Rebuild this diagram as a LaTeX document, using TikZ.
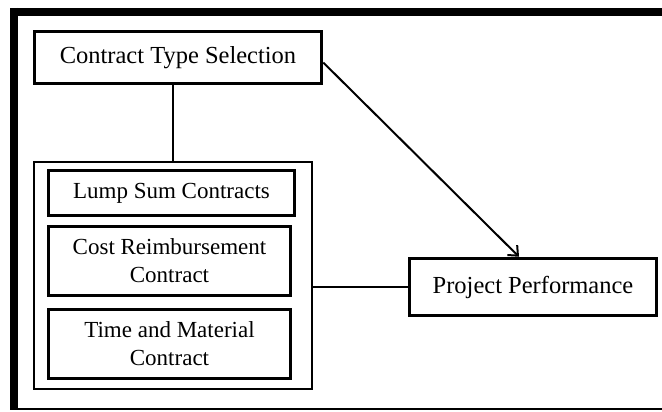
\documentclass[tikz,border=0pt]{standalone}
\usepackage{fontspec}
\setmainfont{Liberation Serif}
\usetikzlibrary{arrows.meta}
\tikzset{
  bigbox/.style={draw, line width=3.5pt, inner sep=0pt, align=center, font=\fontsize{24.5}{29}\selectfont},
  itembox/.style={draw, line width=3.5pt, inner sep=0pt, align=center, font=\fontsize{23}{28}\selectfont},
  groupbox/.style={draw, line width=2.5pt, inner sep=0pt},
  conn/.style={line width=2pt},
  frame/.style={line cap=butt}
}
\begin{document}
\begin{tikzpicture}[x=1pt, y=-1pt]
\useasboundingbox (0,0) rectangle (662,412);
% outer frame
\draw[frame, line width=7.5pt] (10,12) -- (662,12);
\draw[frame, line width=8pt] (14,8) -- (14,410);
\draw[frame, line width=2pt] (10,408.5) -- (662,408.5);
% nodes
\node[bigbox, minimum width=287pt, minimum height=52pt] (cts) at (178,57.5) {Contract Type Selection};
\node[groupbox, minimum width=278pt, minimum height=227pt] (grp) at (173,275.5) {};
\node[itembox, minimum width=246pt, minimum height=45pt] (lump) at (171.5,193) {Lump Sum Contracts};
\node[itembox, minimum width=242pt, minimum height=69pt] (cost) at (169.5,261) {Cost Reimbursement\\Contract};
\node[itembox, minimum width=242pt, minimum height=69pt] (tm) at (169.5,344) {Time and Material\\Contract};
\node[bigbox, minimum width=247pt, minimum height=57pt] (proj) at (533,287) {Project Performance};
% connectors
\draw[conn] (cts.south -| grp.north) -- (grp.north);
\draw[conn] (proj.west -| grp.east) -- (proj.west);
\draw[conn, -{Straight Barb[length=8pt, width=14pt, line width=2pt]}] ([yshift=-5pt]cts.east) -- ([xshift=-14pt]proj.north);
\end{tikzpicture}
\end{document}
